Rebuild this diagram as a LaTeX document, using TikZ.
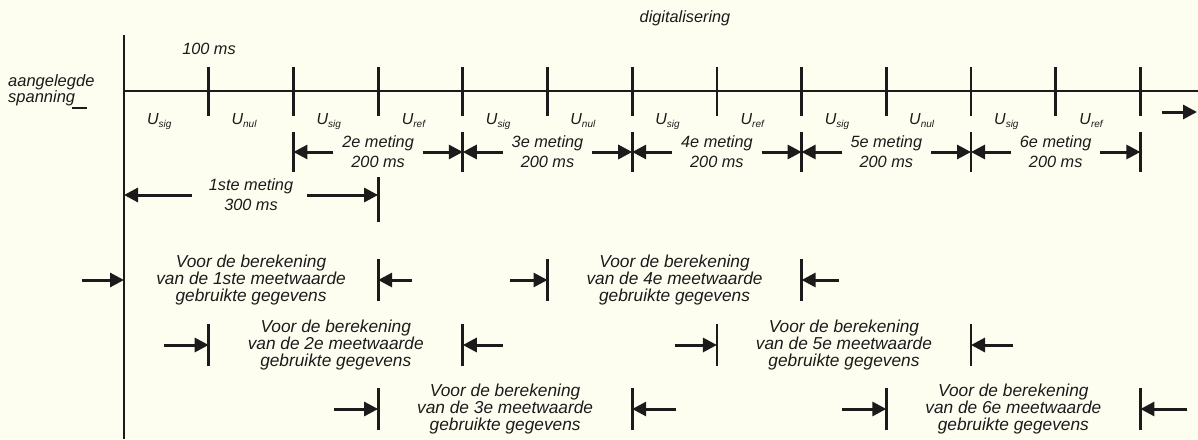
\documentclass[tikz,border=0pt]{standalone}
\usepackage{fontspec}
\setmainfont{Liberation Sans}
\usetikzlibrary{arrows.meta}
\definecolor{paper}{RGB}{254,254,240}
\definecolor{ink}{RGB}{28,26,26}
\begin{document}
\begin{tikzpicture}[x=1pt,y=-1pt,
  lbl/.style={font=\fontsize{17.3}{17}\selectfont\itshape, text=ink, inner sep=0pt, align=center},
  metlbl/.style={font=\fontsize{16.3}{20}\selectfont\itshape, text=ink, inner sep=0pt, align=center},
  ulbl/.style={font=\fontsize{16}{16}\selectfont\itshape, text=ink, inner sep=0pt, anchor=base},
  axisline/.style={draw=ink, line width=2.6pt},
  tick/.style={draw=ink, line width=2.8pt},
  darrow/.style={draw=ink, line width=3pt, -{Triangle[length=14pt,width=14pt]}},
]
\fill[paper] (0,0) rectangle (1198,439);
\useasboundingbox (0,0) rectangle (1198,439);

% axes
\coordinate (ytop) at (124,35);
\coordinate (ybot) at (124,439);
\coordinate (xend) at (1198,91);
\foreach \k in {0,...,12} \coordinate (t\k) at ({124+84.7*\k},91);
\draw[axisline] (ytop) -- (ybot);
\draw[axisline] (t0) -- (xend);
\foreach \k in {1,...,12} \draw[tick] ({124+84.7*\k},67) -- ({124+84.7*\k},116);

% top texts
\node[metlbl] (hundred) at (209,49) {100 ms};
\node[metlbl] (digit) at (685,18) {digitalisering};
\node[metlbl, align=left, anchor=west, font=\fontsize{16.5}{16}\selectfont\itshape] (spann) at (8,90) {aangelegde\\spanning};
\coordinate (lead1) at (72,108);
\coordinate (lead2) at (87,108);
\draw[ink, line width=1.8pt] (lead1) -- (lead2);

% time arrow
\coordinate (ra1) at (1162,112);
\coordinate (ra2) at (1197,112);
\draw[darrow] (ra1) -- (ra2);

% U labels
\foreach \k/\s in {0/sig,1/nul,2/sig,3/ref,4/sig,5/nul,6/sig,7/ref,8/sig,9/nul,10/sig,11/ref} {
  \node[ulbl] (u\k) at ({124+84.7*(\k+0.5)-7},124) {U\raisebox{-3pt}{\fontsize{10}{10}\selectfont \s}};
}

% meting row
\foreach \k in {2,4,...,12} {
  \coordinate (mb\k) at ({124+84.7*\k},152);
  \draw[tick] ({124+84.7*\k},132) -- ({124+84.7*\k},172);
}
\foreach \m/\a in {2/2,3/4,4/6,5/8,6/10} {
  \pgfmathsetmacro{\xa}{124+84.7*\a}
  \pgfmathsetmacro{\xb}{124+84.7*(\a+2)}
  \pgfmathsetmacro{\xc}{(\xa+\xb)/2}
  \node[metlbl] (met\m) at (\xc,152) {\m e meting\\200 ms};
  \coordinate (mls\m) at (\xa+40,152);
  \coordinate (mrs\m) at (\xb-40,152);
  \draw[darrow] (mls\m) -- (mb\a);
  \pgfmathtruncatemacro{\bb}{\a+2}
  \draw[darrow] (mrs\m) -- (mb\bb);
}

% 1ste meting
\node[metlbl] (met1) at (251,195) {1ste meting\\300 ms};
\coordinate (m1l) at (124,195);
\coordinate (m1ls) at (192,195);
\coordinate (m1r) at ({124+84.7*3},195);
\coordinate (m1rs) at (307,195);
\draw[darrow] (m1ls) -- (m1l);
\draw[darrow] (m1rs) -- (m1r);
\draw[tick] ({124+84.7*3},177) -- ({124+84.7*3},222);

% Voor de berekening rows
\foreach \nm/\a/\r/\lo/\ro in {1ste/0/280/42/34, 2e/1/345/45/40, 3e/3/409/44/44, 4e/5/280/38/37, 5e/7/345/42/42, 6e/9/409/44/47} {
  \pgfmathsetmacro{\xa}{124+84.7*\a}
  \pgfmathsetmacro{\xb}{124+84.7*(\a+3)}
  \pgfmathsetmacro{\xc}{(\xa+\xb)/2}
  \node[lbl] (v\nm) at (\xc,\r) {Voor de berekening\\van de \nm\ meetwaarde\\gebruikte gegevens};
  \coordinate (vl\nm) at (\xa,\r);
  \coordinate (vls\nm) at (\xa-\lo,\r);
  \coordinate (vr\nm) at (\xb,\r);
  \coordinate (vrs\nm) at (\xb+\ro,\r);
  \draw[darrow] (vls\nm) -- (vl\nm);
  \draw[darrow] (vrs\nm) -- (vr\nm);
  \draw[tick] (\xb,\r-21) -- (\xb,\r+21);
  \ifnum\a>0 \draw[tick] (\xa,\r-21) -- (\xa,\r+21); \fi
}
\end{tikzpicture}
\end{document}
